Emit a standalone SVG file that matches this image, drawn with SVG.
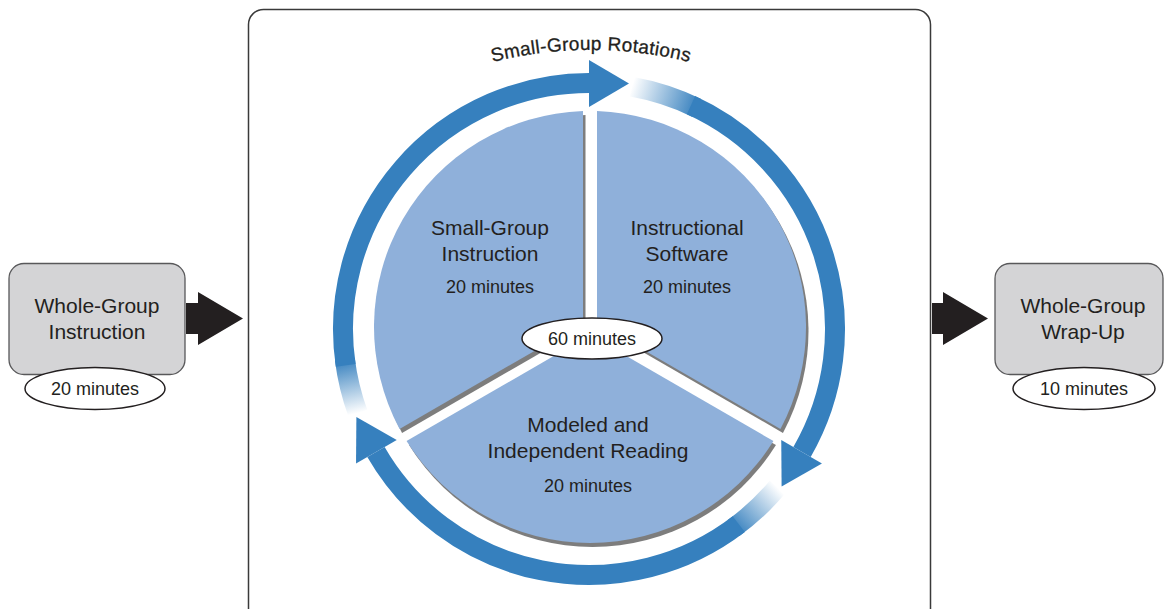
<svg xmlns="http://www.w3.org/2000/svg" width="1165" height="609" viewBox="0 0 1165 609">
<defs>
<style>
.t{font-family:"Liberation Sans",Arial,sans-serif;fill:#231f20;text-anchor:middle}
.lbl{font-size:21px}
.min{font-size:18px}
.box{fill:#d4d4d6;stroke:#58585a;stroke-width:1.3}
.oval{fill:#fff;stroke:#231f20;stroke-width:1.5}
.wedge{fill:#8fb0da}
.shadow{fill:#7d7d7d}
.ring{fill:none;stroke:#3680be;stroke-width:20;stroke-linecap:butt}
.head{fill:#3680be}
.blk{fill:#231f20}
</style>
<linearGradient id="fadeL" gradientUnits="userSpaceOnUse" x1="357.84" y1="413.14" x2="344.83" y2="358.98">
<stop offset="0" stop-color="#3680be" stop-opacity="0"/><stop offset="1" stop-color="#3680be" stop-opacity="1"/>
</linearGradient>
<linearGradient id="fadeT" gradientUnits="userSpaceOnUse" x1="631.72" y1="86.74" x2="696.84" y2="107.9">
<stop offset="0" stop-color="#3680be" stop-opacity="0"/><stop offset="1" stop-color="#3680be" stop-opacity="1"/>
</linearGradient>
<linearGradient id="fadeB" gradientUnits="userSpaceOnUse" x1="777.45" y1="487.13" x2="733.6" y2="528.02">
<stop offset="0" stop-color="#3680be" stop-opacity="0"/><stop offset="1" stop-color="#3680be" stop-opacity="1"/>
</linearGradient>
<path id="titleArc" d="M 329.4 145.2 A 407 407 0 0 1 852.6 145.2"/>
</defs>
<rect width="1165" height="609" fill="#fff"/>

<g id="frame">
<rect x="248.5" y="9.5" width="682" height="640" rx="15" fill="none" stroke="#3a3a3a" stroke-width="1.5"/>
</g>

<g id="title">
<text class="t" style="font-size:19px;letter-spacing:0.3px;stroke:#231f20;stroke-width:0.3"><textPath href="#titleArc" startOffset="50%">Small-Group Rotations</textPath></text>
</g>

<g id="connectors">
<polygon class="blk" points="186,303 198,303 198,292 243,318.5 198,345 198,334 186,334"/>
<polygon class="blk" points="932,303 943,303 943,292 988,318.5 943,345 943,334 932,334"/>
<path class="ring" d="M 357.84 413.14 A 246 246 0 0 1 344.83 358.98" style="stroke:url(#fadeL)"/>
<path class="ring" d="M 345.7 365.36 A 246 246 0 0 1 589 83"/>
<polygon class="head" points="589,60 629,83.5 589,107"/>
<path class="ring" d="M 631.72 86.74 A 246 246 0 0 1 696.84 107.9" style="stroke:url(#fadeT)"/>
<path class="ring" d="M 691.01 105.15 A 246 246 0 0 1 802.04 452"/>
<polygon class="head" points="821.96,463.5 781.61,486.39 781.26,440"/>
<path class="ring" d="M 777.45 487.13 A 246 246 0 0 1 733.6 528.02" style="stroke:url(#fadeB)"/>
<path class="ring" d="M 738.76 524.16 A 246 246 0 0 1 375.96 452"/>
<polygon class="head" points="356.04,463.5 356.39,417.11 396.74,440"/>
</g>

<g id="wedge-small-group">
<path class="shadow" transform="translate(2.5,4)" d="M 583 322.96 L 583 111.1 A 216 216 0 0 0 399.54 428.88 Z"/>
<path class="wedge" d="M 583 322.96 L 583 111.1 A 216 216 0 0 0 399.54 428.88 Z"/>
<text class="t lbl" x="490" y="235">Small-Group</text>
<text class="t lbl" x="490" y="261">Instruction</text>
<text class="t min" x="490" y="293">20 minutes</text>
</g>

<g id="wedge-software">
<path class="shadow" transform="translate(2.5,4)" d="M 597 322.96 L 597 111.1 A 216 216 0 0 1 780.46 428.88 Z"/>
<path class="wedge" d="M 597 322.96 L 597 111.1 A 216 216 0 0 1 780.46 428.88 Z"/>
<text class="t lbl" x="687" y="235">Instructional</text>
<text class="t lbl" x="687" y="261">Software</text>
<text class="t min" x="687" y="293">20 minutes</text>
</g>

<g id="wedge-reading">
<path class="shadow" transform="translate(2.5,4)" d="M 590 335.08 L 773.46 441 A 216 216 0 0 1 406.54 441 Z"/>
<path class="wedge" d="M 590 335.08 L 773.46 441 A 216 216 0 0 1 406.54 441 Z"/>
<text class="t lbl" x="588" y="432">Modeled and</text>
<text class="t lbl" x="588" y="458">Independent Reading</text>
<text class="t min" x="588" y="492">20 minutes</text>
</g>

<g id="total">
<ellipse class="oval" cx="592" cy="338.5" rx="70" ry="20.5"/>
<text class="t min" x="592" y="345">60 minutes</text>
</g>

<g id="whole-group-instruction">
<rect class="box" x="9" y="263.5" width="176" height="111" rx="15"/>
<text class="t lbl" x="97" y="313">Whole-Group</text>
<text class="t lbl" x="97" y="339">Instruction</text>
<ellipse class="oval" cx="95" cy="388.5" rx="70" ry="21"/>
<text class="t min" x="95" y="395">20 minutes</text>
</g>

<g id="whole-group-wrap-up">
<rect class="box" x="995" y="263.5" width="168" height="111" rx="15"/>
<text class="t lbl" x="1083" y="313">Whole-Group</text>
<text class="t lbl" x="1083" y="339">Wrap-Up</text>
<ellipse class="oval" cx="1084" cy="388.5" rx="71" ry="21"/>
<text class="t min" x="1084" y="395">10 minutes</text>
</g>
</svg>
